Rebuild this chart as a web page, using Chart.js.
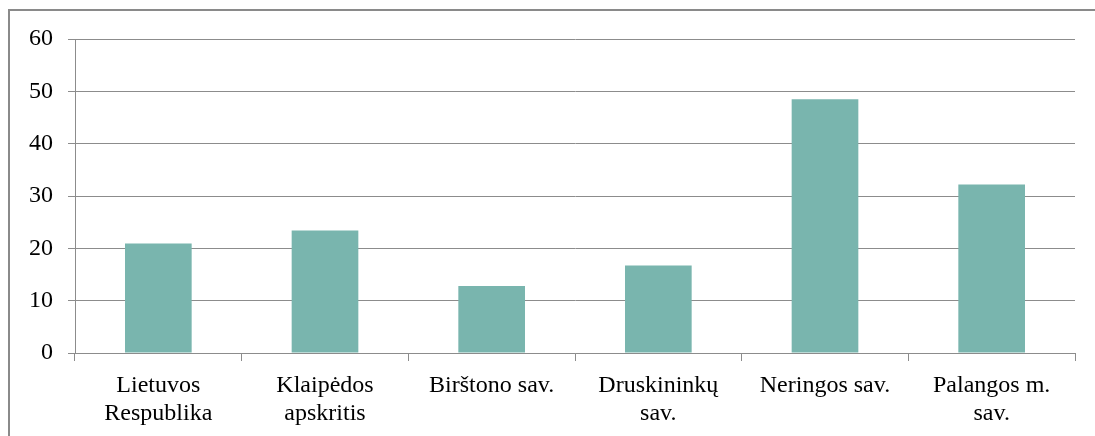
<!DOCTYPE html>
<html>
<head>
<meta charset="utf-8">
<script src="https://cdn.jsdelivr.net/npm/chart.js@4"></script>
<style>
  html, body { margin: 0; padding: 0; background: #fff; }
  #wrap { position: relative; width: 1095px; height: 436px; overflow: hidden; }
  #frame { position: absolute; left: 8px; top: 9px; width: 1200px; height: 600px;
           border-left: 2px solid #8a8a8a; border-top: 2px solid #8a8a8a; }
</style>
</head>
<body>
<div id="wrap">
  <canvas id="chart" width="1095" height="436"></canvas>
  <div id="frame"></div>
</div>
<script>
// categories and values
const regions = [
    ['Lietuvos', 'Respublika'],
    ['Klaipėdos', 'apskritis'],
    'Birštono sav.',
    ['Druskininkų', 'sav.'],
    'Neringos sav.',
    ['Palangos m.', 'sav.']
];
const values = [20.9, 23.4, 12.8, 16.7, 48.5, 32.2];
const yTicks = [0, 10, 20, 30, 40, 50, 60];

const fontFamily = '"Liberation Serif", "DejaVu Serif", serif';
const grey = '#8c8c8c';

const ctx = document.getElementById('chart').getContext('2d');
new Chart(ctx, {
    type: 'bar',
    data: {
        labels: regions,
        datasets: [{
            data: values,
            backgroundColor: '#79b5ae',
            borderWidth: 0,
            categoryPercentage: 1,
            barPercentage: 0.4
        }]
    },
    options: {
        responsive: false,
        animation: false,
        layout: { padding: { left: 0, top: 39, right: 20, bottom: 0 } },
        plugins: {
            legend: { display: false },
            tooltip: { enabled: false }
        },
        scales: {
            x: {
                offset: true,
                afterFit: s => { s.height = 83; },
                grid: {
                    offset: true,
                    drawOnChartArea: false,
                    drawTicks: true,
                    tickLength: 8,
                    color: grey
                },
                border: { color: grey, width: 1 },
                ticks: {
                    color: '#000',
                    padding: 11,
                    maxRotation: 0,
                    autoSkip: false,
                    font: { family: fontFamily, size: 24, lineHeight: 1.17 }
                }
            },
            y: {
                min: 0,
                max: 60,
                afterFit: s => { s.width = 75; },
                afterBuildTicks: s => { s.ticks = yTicks.map(v => ({ value: v })); },
                grid: {
                    color: grey,
                    tickLength: 7,
                    lineWidth: 1
                },
                border: { color: grey, width: 1 },
                ticks: {
                    color: '#000',
                    padding: 15,
                    font: { family: fontFamily, size: 24 }
                }
            }
        }
    }
});
</script>
</body>
</html>
